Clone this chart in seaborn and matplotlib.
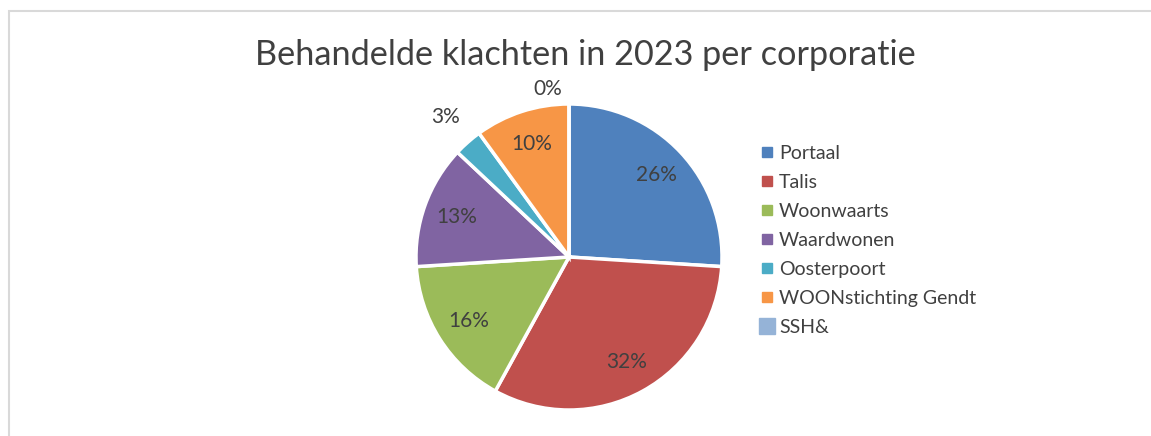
import numpy as np
import matplotlib
matplotlib.use("Agg")
import matplotlib.pyplot as plt
from matplotlib.lines import Line2D
from matplotlib.patches import Rectangle
import seaborn as sns

# ---------------- DATA ----------------
corporaties = ["Portaal", "Talis", "Woonwaarts", "Waardwonen", "Oosterpoort",
               "WOONstichting Gendt", "SSH&"]
aandeel = [26, 32, 16, 13, 3, 10, 0]  # percent of handled complaints
kleuren = ["#4F81BD", "#C0504D", "#9BBB59", "#8064A2", "#4BACC6", "#F79646", "#95B3D7"]

sns.set_theme(style="white")
plt.rcParams["font.family"] = ["Lato", "DejaVu Sans"]
txt = "#404040"

W, H = 1151, 436
fig = plt.figure(figsize=(W / 100, H / 100), dpi=100)

# chart area border
fig.patches.append(Rectangle((8.5 / W, -0.1), 1.2, (H - 11.5) / H + 0.1,
                             transform=fig.transFigure, fill=False,
                             edgecolor="#D9D9D9", linewidth=1.5))

# pie axes placed by pixel
cx, cy, r = 569, 257, 153
ax = fig.add_axes([(cx - r) / W, (H - cy - r) / H, 2 * r / W, 2 * r / H])
wedges, _ = ax.pie(aandeel, colors=kleuren, startangle=90, counterclock=False,
                   wedgeprops=dict(edgecolor="white", linewidth=2.5))
ax.set_xlim(-1, 1)
ax.set_ylim(-1, 1)
ax.set_aspect("auto")

# percentage labels
for w, v in zip(wedges, aandeel):
    ang = np.deg2rad((w.theta1 + w.theta2) / 2)
    if v == 0:
        x, y = np.cos(ang) - 0.14, 1.10
    elif v < 5:
        d = 1.22
        x, y = d * np.cos(ang), d * np.sin(ang)
    else:
        d = 0.78
        x, y = d * np.cos(ang), d * np.sin(ang)
    ax.text(x, y, f"{v}%", ha="center", va="center", fontsize=15, color=txt,
            clip_on=False)

fig.text(585 / W, 1 - 55 / H, "Behandelde klachten in 2023 per corporatie",
         ha="center", va="center", fontsize=24.7, color=txt)

handles = [Line2D([], [], linestyle="none", marker="s", markersize=7 if v else 11,
                  markerfacecolor=c, markeredgecolor=c)
           for c, v in zip(kleuren, aandeel)]
fig.legend(handles, corporaties, loc="upper left",
           bbox_to_anchor=(751 / W, 1 - 135 / H), frameon=False,
           fontsize=14, labelcolor=txt, handlelength=0.6, handletextpad=0.35,
           labelspacing=0.62, borderpad=0)

fig.savefig("out.png", dpi=100)
